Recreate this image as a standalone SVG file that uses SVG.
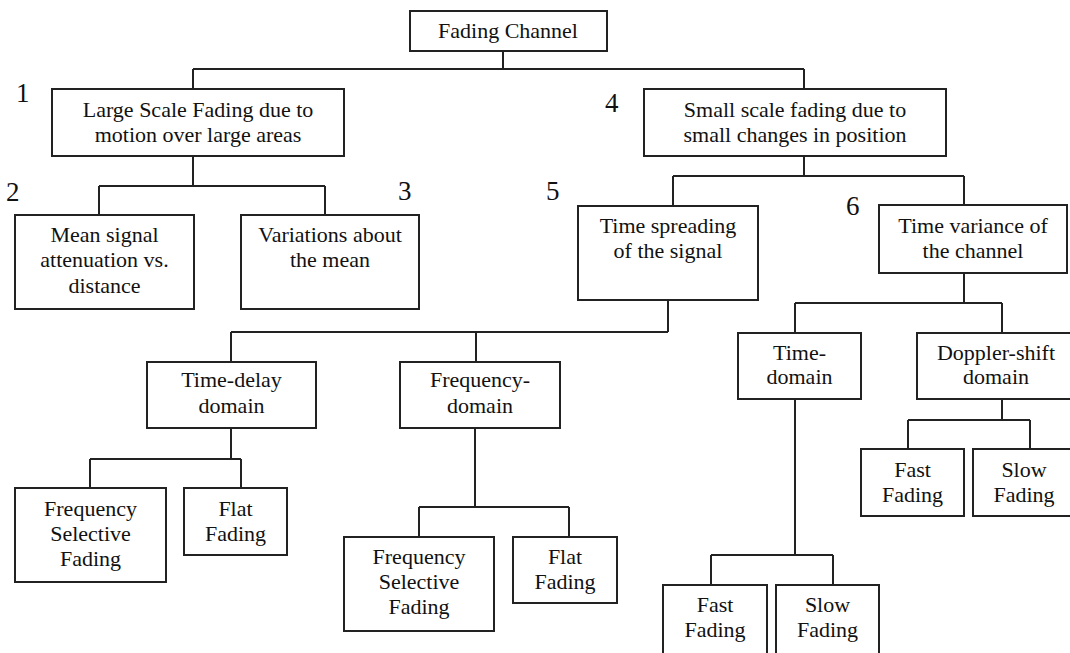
<svg xmlns="http://www.w3.org/2000/svg" width="1070" height="653" viewBox="0 0 1070 653">
  <style>
    .box { fill: #ffffff; stroke: #222222; stroke-width: 2; }
    .lbl { font-family: 'Liberation Serif', Tinos, 'Times New Roman', 'DejaVu Serif', serif; font-size: 22px; fill: #111111; text-anchor: middle; }
    .num { font-family: 'Liberation Serif', Tinos, 'Times New Roman', 'DejaVu Serif', serif; font-size: 27px; fill: #111111; }
    .wire { fill: none; stroke: #222222; stroke-width: 2; }
  </style>
  <rect width="1070" height="653" fill="#ffffff"/>

  <!-- tree connectors -->
  <g id="connectors" class="wire">
    <path d="M503 51 V69 M193 69 H804 M193 69 V89 M804 69 V89"/>
    <path d="M193 156 V186 M99 186 H325 M99 186 V215 M325 186 V215"/>
    <path d="M804 156 V176 M673 176 H964 M673 176 V206 M964 176 V205"/>
    <path d="M668 300 V332 M231 332 H668 M231 332 V362 M476 332 V362"/>
    <path d="M231 428 V459 M90 459 H241 M90 459 V488 M241 459 V488"/>
    <path d="M475 428 V507 M419 507 H569 M419 507 V537 M569 507 V537"/>
    <path d="M964 273 V303 M795 303 H1002 M795 303 V333 M1002 303 V333"/>
    <path d="M795 399 V555 M711 555 H833 M711 555 V585 M833 555 V585"/>
    <path d="M1002 399 V420 M908 420 H1030 M908 420 V449 M1030 420 V449"/>
  </g>

  <!-- level numbers -->
  <g id="numbers">
    <text class="num" x="16" y="102">1</text>
    <text class="num" x="6" y="201">2</text>
    <text class="num" x="398" y="200">3</text>
    <text class="num" x="605" y="112">4</text>
    <text class="num" x="546" y="200">5</text>
    <text class="num" x="846" y="215">6</text>
  </g>

  <g id="fading-channel">
    <rect class="box" x="410" y="11" width="197" height="40"/>
    <text class="lbl" x="508" y="38">Fading Channel</text>
  </g>

  <g id="large-scale">
    <rect class="box" x="52" y="89" width="292" height="67"/>
    <text class="lbl" x="198" y="117">Large Scale Fading due to</text>
    <text class="lbl" x="198" y="142">motion over large areas</text>
  </g>

  <g id="small-scale">
    <rect class="box" x="644" y="89" width="302" height="67"/>
    <text class="lbl" x="795" y="117">Small scale fading due to</text>
    <text class="lbl" x="795" y="142">small changes in position</text>
  </g>

  <g id="mean-attenuation">
    <rect class="box" x="15" y="215" width="179" height="94"/>
    <text class="lbl" x="104.5" y="242">Mean signal</text>
    <text class="lbl" x="104.5" y="267">attenuation vs.</text>
    <text class="lbl" x="104.5" y="293">distance</text>
  </g>

  <g id="variations">
    <rect class="box" x="241" y="215" width="178" height="94"/>
    <text class="lbl" x="330" y="242">Variations about</text>
    <text class="lbl" x="330" y="267">the mean</text>
  </g>

  <g id="time-spreading">
    <rect class="box" x="578" y="206" width="180" height="94"/>
    <text class="lbl" x="668" y="233">Time spreading</text>
    <text class="lbl" x="668" y="258">of the signal</text>
  </g>

  <g id="time-variance">
    <rect class="box" x="879" y="205" width="188" height="68"/>
    <text class="lbl" x="973" y="233">Time variance of</text>
    <text class="lbl" x="973" y="258">the channel</text>
  </g>

  <g id="time-delay-domain">
    <rect class="box" x="147" y="362" width="169" height="66"/>
    <text class="lbl" x="231.5" y="387">Time-delay</text>
    <text class="lbl" x="231.5" y="413">domain</text>
  </g>

  <g id="frequency-domain">
    <rect class="box" x="400" y="362" width="160" height="66"/>
    <text class="lbl" x="480" y="387">Frequency-</text>
    <text class="lbl" x="480" y="413">domain</text>
  </g>

  <g id="freq-selective-a">
    <rect class="box" x="15" y="488" width="151" height="94"/>
    <text class="lbl" x="90.5" y="516">Frequency</text>
    <text class="lbl" x="90.5" y="541">Selective</text>
    <text class="lbl" x="90.5" y="566">Fading</text>
  </g>

  <g id="flat-fading-a">
    <rect class="box" x="184" y="488" width="103" height="67"/>
    <text class="lbl" x="235.5" y="516">Flat</text>
    <text class="lbl" x="235.5" y="541">Fading</text>
  </g>

  <g id="freq-selective-b">
    <rect class="box" x="344" y="537" width="150" height="94"/>
    <text class="lbl" x="419" y="564">Frequency</text>
    <text class="lbl" x="419" y="589">Selective</text>
    <text class="lbl" x="419" y="614">Fading</text>
  </g>

  <g id="flat-fading-b">
    <rect class="box" x="513" y="537" width="104" height="66"/>
    <text class="lbl" x="565" y="564">Flat</text>
    <text class="lbl" x="565" y="589">Fading</text>
  </g>

  <g id="time-domain">
    <rect class="box" x="738" y="333" width="123" height="66"/>
    <text class="lbl" x="799.5" y="360">Time-</text>
    <text class="lbl" x="799.5" y="384">domain</text>
  </g>

  <g id="doppler-domain">
    <rect class="box" x="917" y="333" width="160" height="66"/>
    <text class="lbl" x="996" y="360">Doppler-shift</text>
    <text class="lbl" x="996" y="384">domain</text>
  </g>

  <g id="fast-fading-a">
    <rect class="box" x="861" y="449" width="103" height="67"/>
    <text class="lbl" x="912.5" y="477">Fast</text>
    <text class="lbl" x="912.5" y="502">Fading</text>
  </g>

  <g id="slow-fading-a">
    <rect class="box" x="973" y="449" width="104" height="67"/>
    <text class="lbl" x="1024" y="477">Slow</text>
    <text class="lbl" x="1024" y="502">Fading</text>
  </g>

  <g id="fast-fading-b">
    <rect class="box" x="663" y="585" width="104" height="80"/>
    <text class="lbl" x="715" y="612">Fast</text>
    <text class="lbl" x="715" y="637">Fading</text>
  </g>

  <g id="slow-fading-b">
    <rect class="box" x="776" y="585" width="103" height="80"/>
    <text class="lbl" x="827.5" y="612">Slow</text>
    <text class="lbl" x="827.5" y="637">Fading</text>
  </g>
</svg>
